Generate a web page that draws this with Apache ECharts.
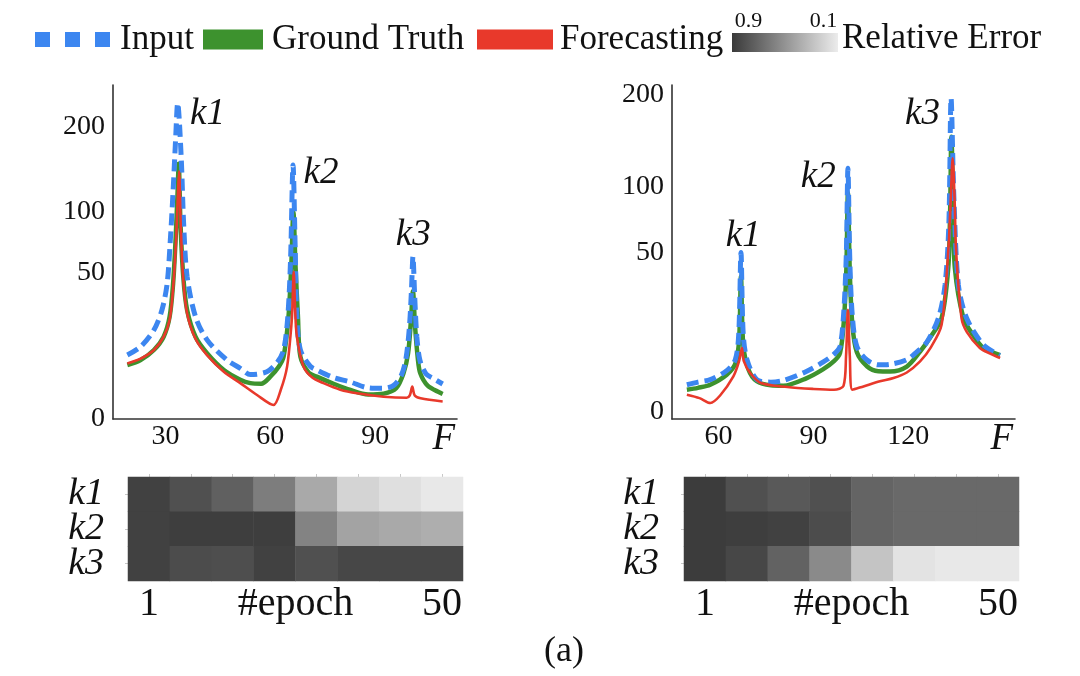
<!DOCTYPE html>
<html><head><meta charset="utf-8">
<script src="https://cdn.jsdelivr.net/npm/echarts@6.0.0/dist/echarts.min.js"></script>
<style>html,body{margin:0;padding:0;background:#fff}#c{width:1080px;height:676px}</style>
</head><body><div id="c"></div>
<script>
// ---------- data ----------
const yTickValues = [0, 50, 100, 200];
const leftXTicks = [30, 60, 90];
const rightXTicks = [60, 90, 120];
const epochTickLabels = ['1', '', '', '', '', '', '', '50'];
const errRows = ['k1', 'k2', 'k3'];

// Left panel: [F, amplitude]
const leftInput = [[19.1,9.56],[22.9,12.2],[26.7,18.5],[29.0,27.7],[30.5,43],[31.4,74.8],[32.2,122],[32.9,181.7],[33.5,232.6],[34.5,160.6],[35.2,89.4],[36.2,47.3],[38.6,24.4],[41.9,14.6],[47.6,8.1],[51.4,6.0],[54.3,4.6],[59.0,5.2],[62.0,7.5],[63.8,11.1],[65.0,24.4],[65.8,60],[66.5,150.6],[67.1,70],[67.6,24.4],[68.6,11.1],[71.4,6.5],[73.3,5.6],[78.1,4.0],[82.9,3.2],[87.6,2.3],[92.0,2.2],[95.2,2.6],[97.5,4.5],[98.8,8.5],[99.8,20],[100.4,40],[100.8,61.5],[101.3,35],[101.9,16],[102.8,8],[104.5,4.8],[106.7,3.8],[109.3,2.86]];
const leftTruth = [[19.1,6.8],[22.9,8.1],[26.7,11.1],[29.5,15.8],[31.2,24.4],[32.2,43],[32.9,74.8],[33.5,122],[33.8,152],[34.3,89.4],[35.1,47.3],[36.2,27.7],[38.6,15.8],[41.9,10.1],[46.7,5.6],[51.4,3.6],[54.3,3.0],[57.4,2.9],[60.0,4.18],[62.5,6.5],[63.8,9.06],[65.2,24.4],[66.0,55],[66.6,100],[67.2,55],[67.9,24.4],[68.6,9.06],[71.0,5.0],[73.3,4.18],[78.1,2.9],[82.9,1.96],[88.0,1.4],[92.4,1.5],[96.0,2.2],[98.1,4.87],[99.4,10],[100.2,22],[100.8,38],[101.4,20],[102.2,8.5],[102.9,4.87],[105.0,2.6],[108.6,1.6],[109.3,1.46]];
const leftForecast = [[19.1,7.2],[22.9,8.5],[26.7,11.1],[29.5,15.8],[31.2,23],[32.2,40],[33.0,72],[33.6,120],[33.9,143],[34.4,85],[35.1,45],[36.2,26],[38.6,15],[41.9,9.5],[46.7,5.2],[51.4,3.0],[56.2,1.34],[60.9,0.46],[63.0,2.0],[64.8,6.4],[66.0,20],[66.3,27.7],[66.7,50.6],[67.1,28],[67.6,15.8],[69.5,6.4],[72.0,4.0],[75.2,3.0],[80.0,2.0],[84.8,1.54],[92.4,1.16],[99.0,1.05],[99.9,1.3],[100.6,2.44],[101.3,1.3],[103.0,1.0],[109.3,0.72]];

// Right panel
const rightInput = [[50.0,1.41],[53.5,1.7],[57.4,2.0],[62.6,3.3],[65.3,5.3],[66.4,12],[67.1,50.2],[67.8,12],[69.0,5.3],[72.1,2.0],[76.5,1.7],[80.5,1.9],[87.9,3.2],[93.0,4.8],[96.5,6.5],[98.4,8.4],[99.6,20],[100.4,50],[100.9,117.5],[101.5,45],[102.3,18],[103.7,8.4],[106.8,5.3],[110.5,4.3],[114.2,4.4],[119.5,5.3],[122.6,7.0],[125.8,9.5],[129.5,17.3],[131.6,31.9],[132.8,70],[133.5,194.9],[134.4,90],[135.8,31.9],[138.4,17.3],[143.7,8.8],[148.4,6.4],[148.9,6.2]];
const rightTruth = [[50.0,0.93],[53.5,1.1],[57.4,1.41],[62.6,2.67],[65.3,4.5],[66.5,10],[67.1,36.2],[67.8,9],[69.5,3.45],[72.1,1.8],[76.5,1.35],[80.5,1.31],[87.9,2.2],[93.0,3.5],[96.5,5.0],[98.4,6.77],[99.6,16],[100.4,40],[100.9,95],[101.5,38],[102.3,15],[103.7,7.0],[107.0,4.0],[110.5,3.2],[114.2,3.17],[119.5,4.0],[123.7,7.1],[127.0,11],[130.5,17.3],[132.6,40.8],[133.2,80],[133.6,150],[134.2,80],[134.7,40.8],[137.4,17.3],[140.5,11.5],[143.7,8.0],[149.0,6.3]];
const rightForecast = [[50.0,0.55],[54.0,0.35],[57.4,0.14],[60.5,0.5],[64.7,2.43],[66.5,5.0],[67.4,7.97],[68.0,5.0],[70.0,2.93],[73.4,1.6],[81.8,1.18],[90.0,1.0],[96.5,0.93],[99.5,1.3],[100.3,6.0],[100.9,20.5],[101.5,6.0],[102.3,0.93],[105.8,1.24],[111.0,1.79],[115.3,2.2],[119.5,3.0],[123.7,4.96],[127.0,8.0],[130.5,14.9],[132.6,50.8],[133.4,90],[134.0,127.4],[134.6,90],[135.1,50.8],[136.8,17.3],[138.5,12.5],[142.6,8.0],[146.0,6.6],[149.0,5.66]];

// Relative error per epoch bin (8 bins, epoch 1 .. 50)
const leftErrK1 = [0.87,0.80,0.73,0.60,0.40,0.21,0.16,0.12];
const leftErrK2 = [0.87,0.88,0.88,0.88,0.57,0.43,0.40,0.38];
const leftErrK3 = [0.87,0.82,0.81,0.87,0.80,0.84,0.84,0.84];
const rightErrK1 = [0.89,0.80,0.76,0.80,0.71,0.69,0.69,0.69];
const rightErrK2 = [0.89,0.88,0.87,0.82,0.71,0.69,0.69,0.69];
const rightErrK3 = [0.89,0.84,0.72,0.54,0.28,0.14,0.12,0.12];

// ---------- styling ----------
const SERIF = "'Liberation Serif','DejaVu Serif',serif";
const INK = '#111';
const BLUE = '#3c86f0', GREEN = '#3d922e', RED = '#e8392b';
const AXIS = '#333';

const sq = v => Math.sqrt(v);
const toPlot = arr => arr.map(p => [p[0], sq(p[1])]);

function lineSeries(name, data, idx, color, width, dash, z) {
  return {
    type: 'line', name, xAxisIndex: idx, yAxisIndex: idx,
    data: toPlot(data), symbol: 'none', showSymbol: false, smooth: 0.3, z,
    itemStyle: { color },
    lineStyle: { color, width, type: dash || 'solid', cap: 'butt' },
    emphasis: { disabled: true }, animation: false
  };
}
function heatData(rows) {
  const out = [];
  rows.forEach((row, r) => row.forEach((v, c) => out.push([c, r, v])));
  return out;
}
function valueX(gi, min, max, ticks) {
  return {
    type: 'value', gridIndex: gi, min, max, splitLine: { show: false },
    axisLine: { show: true, onZero: false, lineStyle: { color: AXIS, width: 1.6 } },
    axisTick: { show: false },
    axisLabel: { customValues: ticks, fontFamily: SERIF, fontSize: 28, color: INK, margin: 4 },
    name: 'F', nameLocation: 'end', nameGap: -2, nameMoveOverlap: false,
    nameTextStyle: { fontFamily: SERIF, fontStyle: 'italic', fontSize: 37, color: INK, align: 'right', verticalAlign: 'top', padding: [2, 0, 0, 0] }
  };
}
function valueY(gi, min, max) {
  return {
    type: 'value', gridIndex: gi, min, max, splitLine: { show: false },
    axisLine: { show: true, onZero: false, lineStyle: { color: AXIS, width: 1.6 } },
    axisTick: { show: false },
    axisLabel: { customValues: yTickValues.map(sq), formatter: v => String(Math.round(v * v)),
      fontFamily: SERIF, fontSize: 28, color: INK, margin: 8 }
  };
}
function heatX(gi) {
  return {
    type: 'category', gridIndex: gi, data: epochTickLabels.map((_, i) => i),
    axisLine: { show: false }, axisTick: { show: false }, splitLine: { show: false },
    axisLabel: { interval: 0, hideOverlap: false, formatter: (v, i) => epochTickLabels[i], fontFamily: SERIF, fontSize: 40, color: INK, margin: 3 },
    name: '#epoch', nameLocation: 'middle', nameGap: 3, nameMoveOverlap: false,
    nameTextStyle: { fontFamily: SERIF, fontSize: 40, color: INK }
  };
}
function heatTopX(gi) {
  return {
    type: 'category', gridIndex: gi, position: 'top', data: epochTickLabels.map((_, i) => i),
    axisLine: { show: false }, axisLabel: { show: false }, splitLine: { show: false },
    axisTick: { show: true, alignWithLabel: true, length: 3, lineStyle: { color: '#c8c8c8' } }
  };
}
function heatY(gi, margin) {
  return {
    type: 'category', gridIndex: gi, data: errRows, inverse: true,
    axisLine: { show: false }, splitLine: { show: false },
    axisTick: { show: true, alignWithLabel: true, length: 3, lineStyle: { color: '#c8c8c8' } },
    axisLabel: { interval: 0, hideOverlap: false, fontFamily: SERIF, fontStyle: 'italic', fontSize: 38, color: INK, margin }
  };
}
function txt(text, x, y, size, opts) {
  opts = opts || {};
  return {
    type: 'text', x, y, silent: true,
    style: {
      text, fill: INK,
      font: (opts.italic ? 'italic ' : '') + size + 'px ' + SERIF,
      textAlign: opts.align || 'center', align: opts.align || 'center',
      textVerticalAlign: 'middle', verticalAlign: 'middle'
    }
  };
}

const legendText = pad => ({ fontFamily: SERIF, fontSize: 35, color: INK, padding: [0, 0, 0, pad] });

const option = {
  animation: false,
  backgroundColor: '#ffffff',
  legend: [
    { left: 30, top: 17, itemWidth: 75, itemHeight: 16, selectedMode: false, textStyle: legendText(5),
      data: [{ name: 'Input', icon: 'path://M0,0h15v15h-15z M30,0h15v15h-15z M60,0h15v15h-15z', itemStyle: { color: BLUE } }] },
    { left: 198, top: 17, itemWidth: 60, itemHeight: 20, selectedMode: false, textStyle: legendText(4),
      data: [{ name: 'Ground Truth', icon: 'rect', itemStyle: { color: GREEN } }] },
    { left: 472, top: 17, itemWidth: 76, itemHeight: 20, selectedMode: false, textStyle: legendText(2),
      data: [{ name: 'Forecasting', icon: 'rect', itemStyle: { color: RED } }] }
  ],
  grid: [
    { left: 113, top: 85, width: 344, height: 334, outerBoundsMode: 'none' },
    { left: 672, top: 85, width: 343, height: 334, outerBoundsMode: 'none' },
    { left: 128, top: 477, width: 335, height: 104, outerBoundsMode: 'none' },
    { left: 684, top: 477, width: 335, height: 104, outerBoundsMode: 'none' }
  ],
  xAxis: [
    valueX(0, 15, 113.4, leftXTicks),
    valueX(1, 45.3, 153.7, rightXTicks),
    heatX(2), heatX(3), heatTopX(2), heatTopX(3)
  ],
  yAxis: [
    valueY(0, 0, 16.13),
    valueY(1, -0.34, 14.55),
    heatY(2, 24), heatY(3, 25)
  ],
  visualMap: {
    show: false, type: 'continuous', min: 0.1, max: 0.9, seriesIndex: [6, 7],
    inRange: { color: ['#ececec', '#3a3a3a'] }
  },
  series: [
    lineSeries('Ground Truth', leftTruth, 0, GREEN, 4.5, null, 2),
    lineSeries('Input', leftInput, 0, BLUE, 5, [12, 6], 3),
    lineSeries('Forecasting', leftForecast, 0, RED, 2.6, null, 4),
    lineSeries('Ground Truth', rightTruth, 1, GREEN, 4.5, null, 2),
    lineSeries('Input', rightInput, 1, BLUE, 5, [12, 6], 3),
    lineSeries('Forecasting', rightForecast, 1, RED, 2.6, null, 4),
    { type: 'heatmap', name: 'Relative Error L', xAxisIndex: 2, yAxisIndex: 2,
      data: heatData([leftErrK1, leftErrK2, leftErrK3]), itemStyle: { borderWidth: 0 }, emphasis: { disabled: true } },
    { type: 'heatmap', name: 'Relative Error R', xAxisIndex: 3, yAxisIndex: 3,
      data: heatData([rightErrK1, rightErrK2, rightErrK3]), itemStyle: { borderWidth: 0 }, emphasis: { disabled: true } }
  ],
  graphic: [
    { type: 'rect', silent: true, shape: { x: 732, y: 33, width: 106, height: 19 },
      style: { fill: { type: 'linear', x: 0, y: 0, x2: 1, y2: 0,
        colorStops: [{ offset: 0, color: '#3a3a3a' }, { offset: 1, color: '#ececec' }] } } },
    txt('0.9', 748.5, 21, 22),
    txt('0.1', 823.5, 21, 22),
    txt('Relative Error', 842, 38.5, 35, { align: 'left' }),
    txt('k1', 207.5, 114.5, 37, { italic: true }),
    txt('k2', 321, 173.3, 37, { italic: true }),
    txt('k3', 413.3, 235, 37, { italic: true }),
    txt('k1', 743.3, 236.7, 37, { italic: true }),
    txt('k2', 818.3, 177.5, 37, { italic: true }),
    txt('k3', 922.5, 114.2, 37, { italic: true }),
    txt('(a)', 564, 652, 36)
  ]
};

const chart = echarts.init(document.getElementById('c'), null, { renderer: 'canvas', width: 1080, height: 676 });
chart.setOption(option);
</script>
</body></html>
